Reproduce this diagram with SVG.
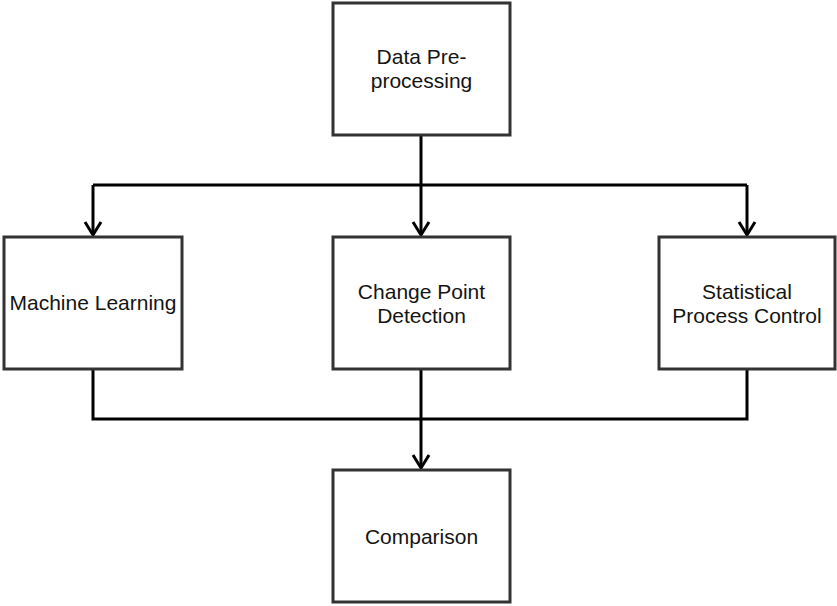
<svg xmlns="http://www.w3.org/2000/svg" width="837" height="606" viewBox="0 0 837 606">
  <style>
    .box { fill: #ffffff; stroke: #333333; stroke-width: 3; }
    .lbl { font-family: "Liberation Sans", Arial, sans-serif; font-size: 21px; fill: #141414; text-anchor: middle; }
    .wire { fill: none; stroke: #000000; stroke-width: 3; stroke-linejoin: miter; }
  </style>
  <defs>
    <!-- open V arrowhead, tip at the line end -->
    <marker id="arrowOpen" markerUnits="userSpaceOnUse" markerWidth="24" markerHeight="24" viewBox="-18 -12 24 24" refX="0" refY="0" orient="auto" overflow="visible">
      <path d="M-13,-8 L0,0 L-13,8" fill="none" stroke="#000000" stroke-width="3"/>
    </marker>
  </defs>
  <rect width="837" height="606" fill="#ffffff"/>

  <g id="connectors">
    <!-- fan-out from pre-processing -->
    <path class="wire" d="M421,135 V185"/>
    <path class="wire" d="M93,185 H747"/>
    <path class="wire" d="M93,185 V235" marker-end="url(#arrowOpen)"/>
    <path class="wire" d="M421,185 V235" marker-end="url(#arrowOpen)"/>
    <path class="wire" d="M747,185 V235" marker-end="url(#arrowOpen)"/>
    <!-- merge into comparison -->
    <path class="wire" d="M93,369 V419 H747 V369"/>
    <path class="wire" d="M421,369 V468" marker-end="url(#arrowOpen)"/>
  </g>

  <g id="node-preprocessing">
    <rect class="box" x="333" y="3" width="177" height="132"/>
    <text class="lbl" x="421.5" y="64">Data Pre-</text>
    <text class="lbl" x="421.5" y="88">processing</text>
  </g>

  <g id="node-ml">
    <rect class="box" x="4" y="237" width="178" height="132"/>
    <text class="lbl" x="93" y="310">Machine Learning</text>
  </g>

  <g id="node-cpd">
    <rect class="box" x="333" y="237" width="177" height="132"/>
    <text class="lbl" x="421.5" y="299">Change Point</text>
    <text class="lbl" x="421.5" y="323">Detection</text>
  </g>

  <g id="node-spc">
    <rect class="box" x="659" y="237" width="176" height="132"/>
    <text class="lbl" x="747" y="299">Statistical</text>
    <text class="lbl" x="747" y="323">Process Control</text>
  </g>

  <g id="node-comparison">
    <rect class="box" x="333" y="470" width="177" height="132"/>
    <text class="lbl" x="421.5" y="544">Comparison</text>
  </g>
</svg>
